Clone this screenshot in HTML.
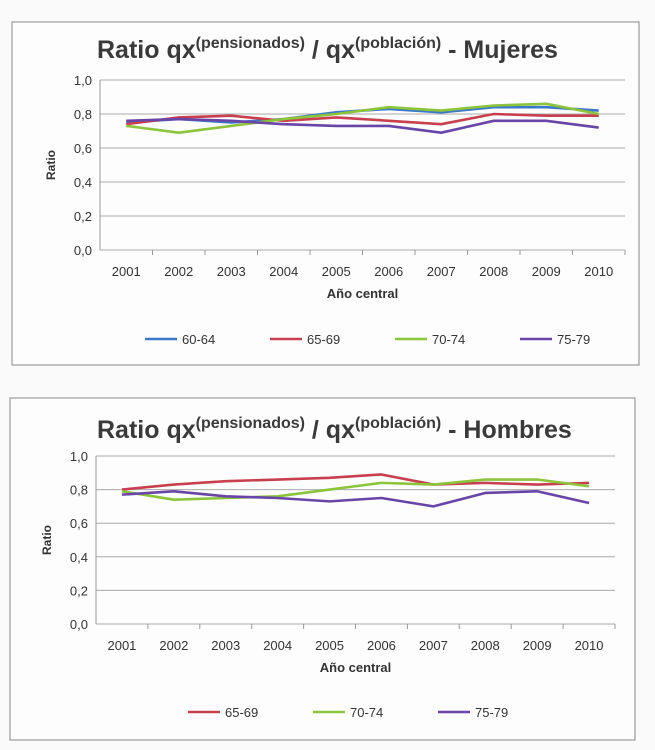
<!DOCTYPE html>
<html><head><meta charset="utf-8"><style>
body{margin:0;background:#fafafa;}
svg{display:block;font-family:"Liberation Sans",sans-serif;}
</style></head><body>
<svg id="s" width="655" height="750"></svg>
<script>
const years=["2001","2002","2003","2004","2005","2006","2007","2008","2009","2010"];
const yTicks=[0,0.2,0.4,0.6,0.8,1.0];
const yTickLabels=["0,0","0,2","0,4","0,6","0,8","1,0"];
const mujeres6064=[0.75,0.77,0.75,0.77,0.81,0.83,0.81,0.84,0.84,0.82];
const mujeres6569=[0.74,0.78,0.79,0.76,0.78,0.76,0.74,0.80,0.79,0.79];
const mujeres7074=[0.73,0.69,0.73,0.77,0.80,0.84,0.82,0.85,0.86,0.80];
const mujeres7579=[0.76,0.77,0.76,0.74,0.73,0.73,0.69,0.76,0.76,0.72];
const hombres6569=[0.80,0.83,0.85,0.86,0.87,0.89,0.83,0.84,0.83,0.84];
const hombres7074=[0.79,0.74,0.75,0.76,0.80,0.84,0.83,0.86,0.86,0.82];
const hombres7579=[0.77,0.79,0.76,0.75,0.73,0.75,0.70,0.78,0.79,0.72];
const colors={"60-64":"#3b78c8","65-69":"#c8404f","70-74":"#8cc43c","75-79":"#6a45a8"};
const NS="http://www.w3.org/2000/svg";
const svg=document.getElementById('s');
function mk(t,a,p,txt){const e=document.createElementNS(NS,t);for(const k in a)e.setAttribute(k,a[k]);if(txt!==undefined)e.textContent=txt;(p||svg).appendChild(e);return e;}
function chart(cfg){
 const g=mk('g',{});
 
 
 const b=mk('rect',{x:cfg.bx,y:cfg.by,width:cfg.bw,height:cfg.bh,fill:'#fdfdfd',stroke:'#888','stroke-width':1},g);
 
 const t=mk('text',{x:cfg.tx,y:cfg.ty,'font-size':25,'font-weight':'bold',fill:'#3a3a3a'},g);
 
 t.innerHTML='Ratio qx<tspan font-size="16" dy="-10">(pensionados)</tspan><tspan dy="10"> / qx</tspan><tspan font-size="16" dy="-10">(población)</tspan><tspan dy="10"> - '+cfg.gender+'</tspan>';
 const X0=cfg.px0,X1=cfg.px1,Y0=cfg.py0,Y1=cfg.py1;
 const step=(X1-X0)/years.length;
 const xs=i=>X0+step*(i+0.5);
 const ys=v=>Y0-(Y0-Y1)*v;
 yTicks.forEach((v,i)=>{
  const l=mk('line',{x1:X0,x2:X1,y1:ys(v),y2:ys(v),stroke:'#aaa','stroke-width':1},g);
  
  const tl=mk('text',{x:X0-8,y:ys(v)+5,'font-size':13,'text-anchor':'end',fill:'#333'},g,yTickLabels[i]);
  
 });
 mk('line',{x1:X0,x2:X0,y1:Y1,y2:Y0,stroke:'#999'},g);
 years.forEach((y,i)=>{
  mk('line',{x1:X0+step*(i+1),x2:X0+step*(i+1),y1:Y0,y2:Y0+5,stroke:'#999'},g);
  const tl=mk('text',{x:xs(i),y:Y0+26,'font-size':13,'text-anchor':'middle',fill:'#333'},g,y);
  
 });
 const xt=mk('text',{x:(X0+X1)/2,y:Y0+48,'font-size':13,'font-weight':'bold','text-anchor':'middle',fill:'#333'},g,'Año central');
 
 const yt=mk('text',{x:0,y:0,'font-size':12,'font-weight':'bold','text-anchor':'middle',fill:'#333',transform:`translate(${X0-45},${(Y0+Y1)/2}) rotate(-90)`},g,'Ratio');
 
 cfg.series.forEach(([nm,vals])=>{
  const p=mk('polyline',{points:vals.map((v,i)=>xs(i)+','+ys(v)).join(' '),fill:'none',stroke:colors[nm],'stroke-width':2.6,'stroke-linejoin':'round'},g);
  
 });
 let lx=cfg.lx;
 cfg.series.forEach(([nm])=>{
  const le=mk('g',{},g);
  
  mk('line',{x1:lx,x2:lx+32,y1:cfg.ly,y2:cfg.ly,stroke:colors[nm],'stroke-width':2.6},le);
  mk('text',{x:lx+37,y:cfg.ly+5,'font-size':13,fill:'#333'},le,nm);
  lx+=cfg.lstep;
 });
}
chart({name:'chart-mujeres',gender:'Mujeres',bx:12,by:22,bw:627,bh:343,tx:97,ty:58,px0:100,px1:625,py0:250,py1:80,lx:145,ly:339,lstep:125,
 series:[["60-64",mujeres6064],["65-69",mujeres6569],["70-74",mujeres7074],["75-79",mujeres7579]]});
chart({name:'chart-hombres',gender:'Hombres',bx:10,by:398,bw:625,bh:342,tx:97,ty:438,px0:96,px1:615,py0:624,py1:456,lx:188,ly:712,lstep:125,
 series:[["65-69",hombres6569],["70-74",hombres7074],["75-79",hombres7579]]});
</script>
</body></html>
